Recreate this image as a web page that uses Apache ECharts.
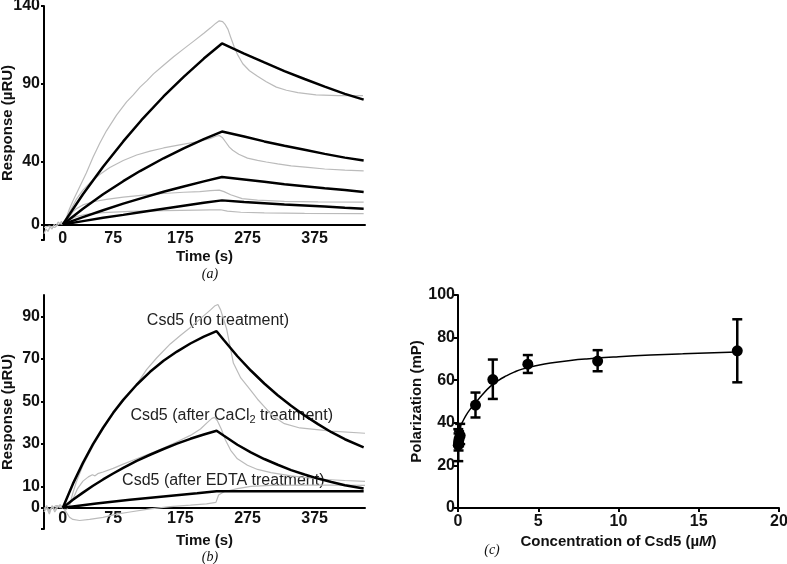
<!DOCTYPE html>
<html><head><meta charset="utf-8">
<script src="https://cdn.jsdelivr.net/npm/echarts@6/dist/echarts.min.js"></script>
<style>html,body{margin:0;padding:0;background:#fff}#c{width:787px;height:564px}</style>
</head><body><div id="c"></div>
<script>
// ---------- Panel (a): SPR sensorgrams, [time (s), response (µRU)] ----------
const aTickLabels = [0, 75, 175, 275, 375];
const aYLabels = [0, 40, 90, 140];
const aFit1 = [[0,0],[30,19.3],[60,36.9],[90,53.2],[117,66.8],[150,82],[180,94.6],[210,106.3],[237,116],[270,109.5],[300,103.8],[330,98.3],[360,93.2],[390,88.3],[420,83.7],[448,80]];
const aFit2 = [[0,0],[30,10.1],[60,19.3],[90,27.7],[115,34.2],[150,42.4],[180,48.8],[210,54.7],[237,59.5],[270,56.3],[300,53.2],[330,50.4],[360,47.8],[390,45.2],[420,42.8],[448,41]];
const aFit3 = [[0,0],[30,4.7],[60,9.1],[90,13.3],[115,16.5],[150,20.9],[180,24.3],[210,27.6],[237,30.4],[270,28.8],[300,27.3],[330,25.8],[360,24.5],[390,23.2],[420,22],[448,20.8]];
const aFit4 = [[0,0],[30,2.1],[60,4.2],[90,6.1],[115,7.8],[150,10.1],[180,12],[210,13.9],[237,15.4],[270,14.4],[300,13.6],[330,12.8],[360,12.1],[390,11.4],[420,10.7],[448,10.1]];
const aRaw1 = [[-28,-6],[-25,-3],[-22,-4.5],[-19,-1.5],[-16,-3],[-13,0],[-10,-1],[-7,1.5],[-4,0.5],[-2,2],[0,0],[5,4],[10,10],[15,15],[20,19.5],[25,24],[35,33],[45,43],[55,52],[65,60],[80,70],[95,78.5],[105,83],[115,88],[125,92],[135,96.5],[150,102],[165,107.5],[180,112.5],[195,117.5],[210,122.5],[220,126],[228,129],[233,130.5],[238,130],[242,128],[246,125],[250,120],[255,114],[260,109],[268,103],[278,98.5],[290,95],[303,91.5],[318,88],[333,86],[350,84.5],[377,83],[410,82.5],[447,82.5]];
const aRaw2 = [[-28,-2],[-20,-1],[-12,-2],[-5,0.5],[0,0],[5,3],[10,8],[15,12],[20,16],[30,22],[40,26.5],[55,32],[70,36.5],[90,41],[110,44.5],[130,47],[150,49],[174,51],[200,53],[219,55],[228,56.5],[233,57],[238,55.5],[243,52.5],[248,49.5],[253,47.5],[262,45],[275,42.5],[290,41],[303,40],[320,38.8],[340,37.5],[365,36.5],[390,35.5],[420,34.8],[448,34.3]];
const aRaw3 = [[0,0],[5,2],[10,5],[15,8],[20,10],[30,12.5],[45,14.5],[65,16],[90,17.5],[120,18.8],[150,19.8],[180,20.6],[204,21],[220,21.7],[233,22],[240,21],[250,19],[267,16.5],[290,15.5],[330,14.8],[380,14.5],[448,14.3]];
const aRaw4 = [[0,0],[5,1.5],[10,3],[20,5],[35,6.5],[60,7.5],[100,8.3],[150,8.8],[200,9.2],[219,9.3],[235,9.4],[245,8.5],[265,7.8],[300,7.4],[360,7.1],[448,6.9]];

// ---------- Panel (b) ----------
const bYLabels = [0, 10, 30, 50, 70, 90];
const bFitNone = [[0,0],[15,11.2],[30,21.1],[45,29.9],[60,37.6],[75,44.6],[90,50.7],[110,57.8],[130,63.9],[150,69.1],[170,73.4],[190,77.2],[210,80.4],[229,83],[240,78.7],[260,71.2],[280,64.5],[300,58.4],[320,52.9],[340,47.9],[360,43.4],[380,39.3],[400,35.5],[420,32.2],[448,28.4]];
const bFitCa = [[0,0],[15,3.7],[30,7.1],[45,10.3],[60,13.3],[75,16.1],[90,18.7],[110,22],[130,24.9],[150,27.6],[170,30.1],[190,32.4],[210,34.4],[229,36.2],[240,33.8],[260,29.6],[280,26],[300,22.9],[320,20.2],[340,17.7],[360,15.6],[380,13.7],[400,12.1],[420,10.6],[448,9]];
const bFitEdta = [[0,0],[15,0.6],[50,2],[100,3.8],[150,5.3],[200,6.8],[229,7.7],[260,7.7],[448,7.7]];
const bRawNone = [[-28,-1],[-24,1],[-20,-2],[-16,0.5],[-12,-1],[-8,1],[-4,0],[0,0],[5,-1],[10,1],[15,7],[20,12],[30,20],[45,29],[60,37],[75,44],[90,50.5],[110,58],[125,65],[140,70.5],[160,77],[175,81],[189,84.5],[200,87.5],[210,90.3],[220,93],[226,94.8],[231,95.5],[235,93],[240,88],[244,84],[249,76],[254,68],[265,61],[279,55.5],[290,51],[300,47.5],[313,43],[330,39.5],[353,37.5],[400,36],[450,35]];
const bRawCa = [[-28,0],[-20,-1],[-10,1],[0,0],[8,0.5],[15,4],[22,9],[30,12.5],[38,14.5],[44,15.5],[48,15],[52,16],[60,16.8],[75,18.5],[90,20.5],[110,23],[130,25.5],[150,28],[170,31],[190,34],[205,37],[215,40],[222,42],[226,42.5],[230,41],[236,37],[242,32],[250,27],[260,23],[275,20],[290,18],[310,16.5],[340,15],[380,13.5],[420,12.8],[450,12.4]];
const bRawEdta = [[-28,-2],[-24,0],[-20,-3],[-16,1],[-12,-2],[-8,0],[-4,1.5],[0,0],[5,-2],[10,-4.5],[15,-5.5],[25,-6],[40,-5.5],[60,-4.5],[80,-3],[100,-2],[130,-0.5],[160,0.5],[190,1.2],[214,1.8],[228,2.5],[232,6],[240,7.5],[260,9],[280,10],[310,10.5],[360,10.6],[400,10.6],[450,10.5]];

// ---------- Panel (c): fluorescence polarization ----------
const concX = [0.017, 0.034, 0.068, 0.136, 1.09, 2.17, 4.35, 8.7, 17.4];
const polY = [29.5, 31, 32.5, 34, 48.3, 60.3, 67.5, 69, 73.8];
const polLow = [22, 27, 29, 30, 42.5, 51.2, 63.4, 64.2, 59];
const polHigh = [37, 35, 36, 39.5, 54.2, 69.7, 71.8, 74.1, 88.6];
const fitX = [0, 0.1, 0.25, 0.5, 0.75, 1, 1.5, 2, 2.5, 3, 3.5, 4, 5, 6, 7, 8, 10, 12, 14, 17.4];
const fitY = [36, 38, 40, 43.5, 46.3, 48.5, 53, 57, 59.8, 62, 63.8, 65.2, 67, 68.3, 69.3, 70, 71, 71.8, 72.4, 73.2];

const FONT = '"Liberation Sans", Arial, sans-serif';
const SERIF = '"Liberation Serif", "Times New Roman", serif';
const chart = echarts.init(document.getElementById('c'), null, {renderer: 'canvas'});

const tickFont = {fontSize: 16, fontWeight: 'bold', color: '#111', fontFamily: FONT};
const nameFont = {fontSize: 15, fontWeight: 'bold', color: '#111', fontFamily: FONT};
const axLine = {show: true, lineStyle: {color: '#000', width: 2}};

function grey(data, xi) {
  return {type: 'line', xAxisIndex: xi, yAxisIndex: xi, data: data, showSymbol: false, symbol: 'none',
    lineStyle: {color: '#bbbbbb', width: 1.2}, z: 2, silent: true};
}
function black(data, xi) {
  return {type: 'line', xAxisIndex: xi, yAxisIndex: xi, data: data, showSymbol: false, symbol: 'none',
    lineStyle: {color: '#000', width: 2.5}, z: 3, silent: true};
}

const option = {
  animation: false,
  backgroundColor: '#fff',
  grid: [
    {left: 44, top: 6, width: 321, height: 234, outerBoundsMode: 'none'},
    {left: 44, top: 295, width: 321, height: 234, outerBoundsMode: 'none'},
    {left: 458, top: 295, width: 321, height: 213, outerBoundsMode: 'none'}
  ],
  xAxis: [
    {gridIndex: 0, type: 'value', min: -28, max: 450, axisLine: Object.assign({onZero: true}, axLine),
     axisTick: {show: false}, splitLine: {show: false},
     axisLabel: Object.assign({customValues: aTickLabels, margin: -9}, tickFont),
     name: 'Time (s)', nameLocation: 'middle', nameGap: 9, nameMoveOverlap: false, nameTextStyle: nameFont},
    {gridIndex: 1, type: 'value', min: -28, max: 450, axisLine: Object.assign({onZero: true}, axLine),
     axisTick: {show: false}, splitLine: {show: false},
     axisLabel: Object.assign({customValues: aTickLabels, margin: -18}, tickFont),
     name: 'Time (s)', nameLocation: 'middle', nameGap: 4, nameMoveOverlap: false, nameTextStyle: nameFont},
    {gridIndex: 2, type: 'value', min: 0, max: 20, interval: 5, axisLine: axLine,
     axisTick: {show: true, length: 4, lineStyle: {color: '#000', width: 2}}, splitLine: {show: false},
     axisLabel: Object.assign({margin: 6}, tickFont),
     name: 'Concentration of Csd5 (µ{i|M})', nameLocation: 'middle', nameGap: 26, nameMoveOverlap: false,
     nameTextStyle: Object.assign({rich: {i: {fontSize: 15, fontWeight: 'bold', fontStyle: 'italic', color: '#111', fontFamily: FONT}}}, nameFont)}
  ],
  yAxis: [
    {gridIndex: 0, type: 'value', min: -10, max: 140, axisLine: Object.assign({onZero: false}, axLine),
     axisTick: {show: true, length: 3, customValues: [-10, 0, 40, 90, 140], lineStyle: {color: '#000', width: 2}},
     splitLine: {show: false},
     axisLabel: Object.assign({customValues: aYLabels, margin: 4}, tickFont),
     name: 'Response (µRU)', nameLocation: 'middle', nameGap: 29, nameMoveOverlap: false, nameTextStyle: nameFont},
    {gridIndex: 1, type: 'value', min: -10, max: 100, axisLine: Object.assign({onZero: false}, axLine),
     axisTick: {show: true, length: 3, customValues: [-10, 0, 10, 30, 50, 70, 90], lineStyle: {color: '#000', width: 2}},
     splitLine: {show: false},
     axisLabel: Object.assign({customValues: bYLabels, margin: 4}, tickFont),
     name: 'Response (µRU)', nameLocation: 'middle', nameGap: 29, nameMoveOverlap: false, nameTextStyle: nameFont},
    {gridIndex: 2, type: 'value', min: 0, max: 100, interval: 20, axisLine: Object.assign({onZero: false}, axLine),
     axisTick: {show: true, length: 4, lineStyle: {color: '#000', width: 2}},
     splitLine: {show: false},
     axisLabel: Object.assign({margin: 3}, tickFont),
     name: 'Polarization (mP)', nameLocation: 'middle', nameGap: 34, nameMoveOverlap: false, nameTextStyle: nameFont}
  ],
  series: [
    grey(aRaw1, 0), grey(aRaw2, 0), grey(aRaw3, 0), grey(aRaw4, 0),
    black(aFit1, 0), black(aFit2, 0), black(aFit3, 0), black(aFit4, 0),
    grey(bRawNone, 1), grey(bRawCa, 1), grey(bRawEdta, 1),
    black(bFitNone, 1), black(bFitCa, 1), black(bFitEdta, 1),
    {type: 'line', xAxisIndex: 2, yAxisIndex: 2, data: fitX.map((x, i) => [x, fitY[i]]),
     showSymbol: false, symbol: 'none', smooth: true, lineStyle: {color: '#000', width: 1.5}, z: 3, silent: true},
    {type: 'custom', xAxisIndex: 2, yAxisIndex: 2, z: 4, silent: true,
     data: concX.map((x, i) => [x, polLow[i], polHigh[i]]),
     renderItem: function (params, api) {
       const lo = api.coord([api.value(0), api.value(1)]);
       const hi = api.coord([api.value(0), api.value(2)]);
       const w = 5;
       const st = {stroke: '#000', lineWidth: 2.5};
       return {type: 'group', children: [
         {type: 'line', shape: {x1: lo[0], y1: lo[1], x2: hi[0], y2: hi[1]}, style: st},
         {type: 'line', shape: {x1: lo[0] - w, y1: lo[1], x2: lo[0] + w, y2: lo[1]}, style: st},
         {type: 'line', shape: {x1: hi[0] - w, y1: hi[1], x2: hi[0] + w, y2: hi[1]}, style: st}
       ]};
     }},
    {type: 'scatter', xAxisIndex: 2, yAxisIndex: 2, data: concX.map((x, i) => [x, polY[i]]),
     symbol: 'circle', symbolSize: 11, itemStyle: {color: '#000', opacity: 1}, z: 5, silent: true}
  ],
  graphic: [
    {type: 'text', x: 218, y: 321, style: {text: 'Csd5 (no treatment)', fontSize: 16, fill: '#222', fontFamily: FONT, align: 'center', verticalAlign: 'middle'}},
    {type: 'text', x: 231.7, y: 416, style: {text: '{a|Csd5 (after CaCl}{s|2}{a| treatment)}', align: 'center', verticalAlign: 'middle',
      rich: {a: {fontSize: 16, fill: '#222', color: '#222', fontFamily: FONT, lineHeight: 19},
             s: {fontSize: 11, fill: '#222', color: '#222', fontFamily: FONT, lineHeight: 11, verticalAlign: 'bottom'}}}},
    {type: 'text', x: 223.3, y: 481, style: {text: 'Csd5 (after EDTA treatment)', fontSize: 16, fill: '#222', fontFamily: FONT, align: 'center', verticalAlign: 'middle'}},
    {type: 'text', x: 210, y: 274, style: {text: '(a)', fontSize: 14, fontStyle: 'italic', fill: '#111', fontFamily: SERIF, align: 'center', verticalAlign: 'middle'}},
    {type: 'text', x: 210, y: 557, style: {text: '(b)', fontSize: 14, fontStyle: 'italic', fill: '#111', fontFamily: SERIF, align: 'center', verticalAlign: 'middle'}},
    {type: 'text', x: 492, y: 550, style: {text: '(c)', fontSize: 14, fontStyle: 'italic', fill: '#111', fontFamily: SERIF, align: 'center', verticalAlign: 'middle'}}
  ]
};
chart.setOption(option);
</script>
</body></html>
